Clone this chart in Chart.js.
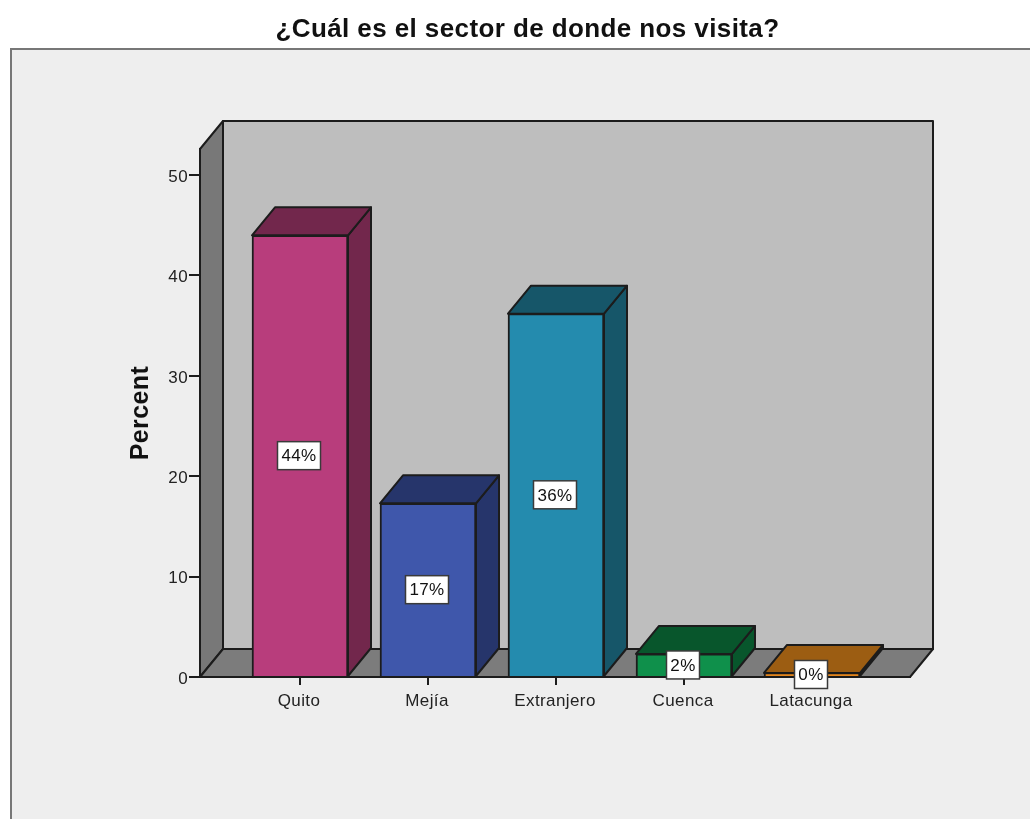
<!DOCTYPE html>
<html><head><meta charset="utf-8">
<style>html,body{margin:0;padding:0;background:#fff}canvas{display:block}</style>
<script src="https://cdn.jsdelivr.net/npm/chart.js@4/dist/chart.umd.min.js"></script>
</head><body><canvas id="c" width="1030" height="819"></canvas>
<script>
const categories = ["Quito", "Mejía", "Extranjero", "Cuenca", "Latacunga"];
const percents = [44.0, 17.3, 36.2, 2.3, 0.4];
const yTicks = [0, 10, 20, 30, 40, 50];
const frontColors = ["#b83d7c", "#3f57ab", "#248bae", "#0f904b", "#e5851a"];
const topColors = ["#72274c", "#26356b", "#165669", "#08562c", "#9c5d12"];
const titleText = "¿Cuál es el sector de donde nos visita?";
const axisTitle = "Percent";
const DX = 23, DY = -28, INK = "#1c1c1c";
const FONT = "'Liberation Sans', Arial, sans-serif";

function poly(ctx, pts, fill, lw) {
  ctx.beginPath();
  pts.forEach((p, i) => i ? ctx.lineTo(p[0], p[1]) : ctx.moveTo(p[0], p[1]));
  ctx.closePath();
  ctx.fillStyle = fill; ctx.fill();
  ctx.lineWidth = lw; ctx.strokeStyle = INK; ctx.lineJoin = "round"; ctx.stroke();
}

const scene = {
  id: "scene",
  beforeDraw(chart) {
    const { ctx, chartArea: a, width, height } = chart;
    ctx.letterSpacing = "0.4px";
    ctx.save();
    ctx.fillStyle = "#eeeeee"; ctx.fillRect(10, 48, width - 10, height - 48);
    ctx.strokeStyle = "#777"; ctx.lineWidth = 2;
    ctx.beginPath(); ctx.moveTo(11, height); ctx.lineTo(11, 49); ctx.lineTo(width, 49); ctx.stroke();
    const L = a.left, R = a.right, T = a.top, B = a.bottom;
    poly(ctx, [[L + DX, T + DY], [R + DX, T + DY], [R + DX, B + DY], [L + DX, B + DY]], "#bebebe", 2);
    poly(ctx, [[L, T], [L + DX, T + DY], [L + DX, B + DY], [L, B]], "#787878", 2);
    poly(ctx, [[L, B], [L + DX, B + DY], [R + DX, B + DY], [R, B]], "#7c7c7c", 2);
    ctx.restore();
  },
  beforeDatasetsDraw(chart) {
    const ctx = chart.ctx;
    ctx.save();
    chart.getDatasetMeta(0).data.forEach((b, i) => {
      const l = b.x - b.width / 2, r = b.x + b.width / 2, t = b.y, bot = b.base;
      poly(ctx, [[r, bot], [r + DX, bot + DY], [r + DX, t + DY], [r, t]], topColors[i], 2);
      poly(ctx, [[l, t], [l + DX, t + DY], [r + DX, t + DY], [r, t]], topColors[i], 2);
    });
    ctx.restore();
  },
  afterDraw(chart) {
    const ctx = chart.ctx;
    ctx.save();
    ctx.font = "17px " + FONT; ctx.textAlign = "center"; ctx.textBaseline = "middle";
    chart.getDatasetMeta(0).data.forEach((b, i) => {
      const txt = Math.round(percents[i]) + "%";
      const w = Math.round(ctx.measureText(txt).width) + 8, h = 28;
      const cx = b.x - 1, cy = (b.y + b.base) / 2;
      ctx.fillStyle = "#fff"; ctx.fillRect(cx - w / 2, cy - h / 2, w, h);
      ctx.strokeStyle = "#3a3a3a"; ctx.lineWidth = 1.5; ctx.strokeRect(cx - w / 2, cy - h / 2, w, h);
      ctx.fillStyle = "#111"; ctx.fillText(txt, cx, cy + 1);
    });
    ctx.restore();
  }
};

new Chart(document.getElementById("c"), {
  type: "bar",
  data: {
    datasets: [{
      data: percents.map((v, i) => ({ x: i, y: v })),
      backgroundColor: frontColors, borderColor: INK, borderWidth: 2,
      barThickness: 96
    }]
  },
  plugins: [scene],
  options: {
    responsive: false, animation: false,
    layout: { padding: { left: 145, right: 120, top: 15, bottom: 100 } },
    plugins: {
      legend: { display: false }, tooltip: { enabled: false },
      title: {
        display: true, text: titleText, color: "#111",
        font: { family: FONT, size: 26, weight: "bold", lineHeight: 1.108 },
        padding: { top: 0, bottom: 105.2 }
      }
    },
    scales: {
      x: {
        type: "linear", min: -0.78125, max: 4.7656, offset: false,
        afterBuildTicks(s) { s.ticks = categories.map((_, i) => ({ value: i })); },
        afterFit(s) { s.height = 42; },
        grid: { offset: false, drawOnChartArea: false, tickLength: 8, color: INK, lineWidth: 2 },
        border: { color: INK, width: 2 },
        ticks: { autoSkip: false, maxRotation: 0, padding: 6, labelOffset: -1, color: "#222",
          font: { family: FONT, size: 17 }, callback: v => categories[v] }
      },
      y: {
        min: 0, max: 52.6,
        afterBuildTicks(s) { s.ticks = yTicks.map(v => ({ value: v })); },
        afterFit(s) { s.width = 55; },
        grid: { drawOnChartArea: false, tickLength: 11, color: INK, lineWidth: 2 },
        border: { color: INK, width: 2 },
        ticks: { padding: 1, labelOffset: 2, color: "#222", font: { family: FONT, size: 17 } },
        title: { display: true, text: axisTitle, color: "#111",
          font: { family: FONT, size: 25, weight: "bold", lineHeight: 1.152 },
          padding: { top: -18, bottom: 0 } }
      }
    }
  }
});
</script></body></html>
